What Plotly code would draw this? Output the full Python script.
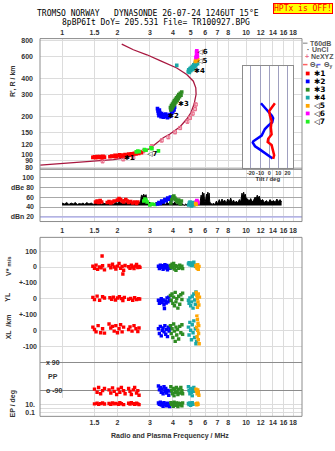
import plotly.graph_objects as go

W, H = 335, 451
def py(p): return 1 - p / H
def pxx(p): return p / W

# ---------------- data ----------------
freq_ticks = [1, 1.5, 2, 3, 4, 5, 6, 7, 8, 10, 12, 14, 16, 18]
freq_tick_text = ['1', '1.5', '2', '3', '4', '5', '6', '7', '8', '10', '12', '14', '16', '18']
height_ticks = [80, 90, 100, 120, 150, 200, 300, 400, 600, 800]
db_ticks = [20, 40, 60, 80, 100]
db_tick_text = ['dBn 20', '40', '60', 'dBe 80', '100']

# plasma-frequency profile
prof_f = [0.76, 1.02, 1.39, 1.64, 1.90, 2.25, 2.55, 2.77, 3.01, 3.34, 3.55, 3.86, 4.38, 4.76, 5.02,
          5.22, 5.35, 5.33, 5.17, 4.76, 4.20, 3.41, 2.89, 2.44, 2.11]
prof_h = [82.9, 85.5, 88, 89.5, 91.8, 95.2, 100.5, 105, 112.6, 126, 136.5, 146, 167, 192, 216,
          252, 301, 339, 382, 431, 486, 555, 618, 677, 751]
nexyz_f = [1.66, 2.15, 2.44, 2.77, 3.07, 3.48, 3.78, 4.11, 4.38, 4.80, 4.96, 5.13, 5.28, 5.33]
nexyz_h = [89.1, 92.4, 95.2, 107, 117, 130, 138, 151, 163, 183, 196, 212, 230, 250]

# echo traces (frequency MHz, virtual height km)
e1_f = [1.47, 1.50, 1.52, 1.55, 1.58, 1.61, 1.64, 1.67, 1.70, 1.82, 1.86, 1.90, 1.94, 1.97, 2.01, 2.05,
        2.08, 2.12, 2.16, 2.20, 2.26, 2.30, 2.34, 2.38, 2.42, 2.47, 2.52, 2.56, 2.61, 2.66, 2.70]
e1_h = [95.5, 96.5, 94.8, 97, 95.5, 96.8, 95, 97.5, 96, 96.5, 98, 97, 99, 96.8, 98.5, 100,
        97.5, 99.5, 98, 100.5, 99, 101.5, 100, 102, 100.5, 103, 101.5, 104, 102.5, 105, 104]
e2_f = [3.30, 3.32, 3.34, 3.36, 3.38, 3.40, 3.42, 3.45, 3.48, 3.52, 3.55, 3.58, 3.62, 3.66, 3.70, 3.74,
        3.78, 3.82, 3.86, 3.90, 3.94, 3.97, 4.00, 4.03, 4.06, 4.09]
e2_h = [232, 222, 212, 204, 226, 216, 208, 200, 212, 204, 198, 207, 200, 210, 202, 197,
        205, 200, 208, 203, 214, 224, 218, 232, 226, 238]
e3_f = [3.88, 3.90, 3.93, 3.96, 3.98, 4.01, 4.03, 4.06, 4.08, 4.10, 4.13, 4.16, 4.19, 4.22, 4.25,
        4.28, 4.31, 4.35, 4.39, 4.43, 4.47]
e3_h = [236, 226, 245, 232, 252, 240, 260, 248, 268, 255, 275, 262, 282, 270, 290,
        278, 300, 288, 306, 296, 314]
e4_f = [4.20, 4.85, 4.88, 4.92, 4.96, 5.00, 5.04, 5.08, 5.12, 5.16, 5.20, 5.24, 5.28, 5.32, 5.36, 5.40, 5.45]
e4_h = [510, 455, 470, 448, 480, 462, 490, 470, 500, 478, 515, 495, 530, 505, 520, 540, 525]
e5_f = [5.30, 5.34, 5.38, 5.42, 5.46]
e5_h = [548, 560, 572, 555, 565]
e6_f = [5.34, 5.38, 5.42, 5.38, 5.44, 5.40]
e6_h = [590, 610, 630, 650, 600, 665]
e7_f = [2.53, 2.58, 2.63, 2.80, 2.86, 3.04, 3.08, 3.34]
e7_h = [105.5, 107, 106, 110, 109, 113.5, 112, 107.5]

lab_f = [2.17, 3.77, 4.27, 5.22, 5.42, 5.44, 2.90]
lab_h = [94, 200, 253, 458, 545, 650, 101]
lab_t = ['✱1', '✱2', '✱3', '✱4', '◁5', '◁6', '◁7']

# tilt inset
tilt_blue_x = [-9, -4.7, -1.1, 2.9, 4.3, 3.3, -1.1, -4.7, -8.3, -13.7, -17.4, -18, -15.5, -10, -4.7, 0.8, 3.7]
tilt_blue_h = [256, 237, 220, 204, 195, 181, 170, 160, 142, 134, 128, 125, 117, 110, 103.5, 97.5, 93.5]
tilt_red_x = [6.2, 2.6, 0, 0.8, 2.6, 1.8, 2.6, -1.1, -1.7, 2.6, 4.3, 5.4, 4.3]
tilt_red_h = [256, 237, 222, 204, 186, 164, 145, 134, 126.5, 119.5, 109, 99.5, 93]

# amplitude
amp_f = [1.00, 1.03, 1.06, 1.09, 1.12, 1.15, 1.18, 1.21, 1.24, 1.27, 1.30, 1.33, 1.36, 1.40, 1.44, 1.48,
         1.52, 1.56, 1.60, 1.64, 1.68, 1.72, 1.76, 1.80, 1.85, 1.90, 1.95, 2.00, 2.05, 2.10, 2.15, 2.20,
         2.25, 2.30, 2.36, 2.42, 2.48, 2.54, 2.60, 2.66, 2.70, 2.74, 2.78, 2.82, 2.86, 2.90, 2.95, 3.00,
         3.06, 3.12, 3.18, 3.25, 3.32, 3.40, 3.48, 3.56, 3.64, 3.72, 3.80, 3.90, 4.00, 4.10, 4.20, 4.30,
         4.40, 4.50, 4.60, 4.70, 4.80, 4.90, 5.00, 5.10, 5.20, 5.30, 5.40, 5.50, 5.60, 5.70, 5.75, 5.80,
         5.85, 5.90, 5.95, 6.00, 6.10, 6.15, 6.20, 6.25, 6.30, 6.35, 6.45, 6.55, 6.65, 6.75, 6.90, 7.00,
         7.15, 7.25, 7.40, 7.55, 7.65, 7.80, 7.95, 8.10, 8.25, 8.40, 8.55, 8.70, 8.85, 9.00, 9.20, 9.35,
         9.50, 9.60, 9.70, 9.80, 9.90, 10.0, 10.2, 10.4, 10.6, 10.8, 11.0, 11.2, 11.35, 11.5, 11.65, 11.8,
         12.0, 12.3, 12.6, 12.9, 13.2, 13.5, 13.8, 14.1, 14.4, 14.7, 15.0, 15.3, 15.6]
amp_db = [48, 46, 49, 45, 48, 46, 49, 45, 47, 46, 48, 45, 49, 46, 48, 45,
          50, 46, 49, 45, 48, 46, 51, 46, 49, 45, 50, 47, 52, 46, 55, 47,
          52, 46, 50, 45, 49, 46, 52, 47, 64, 62, 66, 60, 65, 47, 45, 50,
          44, 48, 45, 50, 44, 48, 45, 49, 44, 50, 46, 52, 46, 50, 45, 48,
          44, 47, 43, 46, 43, 45, 44, 47, 43, 46, 44, 47, 45, 64, 55, 70,
          58, 68, 52, 50, 66, 60, 70, 58, 68, 50, 47, 45, 48, 44, 52, 46,
          55, 48, 56, 50, 54, 47, 56, 50, 58, 49, 54, 47, 52, 48, 55, 50,
          68, 60, 70, 62, 66, 58, 56, 52, 57, 50, 54, 60, 56, 64, 58, 62,
          52, 55, 49, 53, 48, 55, 50, 53, 49, 56, 51, 55, 50]
amp_base_f = [1.00, 15.6]
amp_base_db = [43, 43]
noise_f = [0.7, 21]
noise_db = [20, 20]
a1_f = [1.52, 1.55, 1.58, 1.61, 1.64, 1.76, 1.80, 1.84, 1.88, 1.92, 2.00, 2.04, 2.08, 2.12, 2.16, 2.22, 2.26, 2.30, 2.36, 2.42, 2.48, 2.54, 2.58]
a1_db = [50, 52, 49, 53, 50, 49, 51, 48, 50, 52, 54, 57, 55, 52, 50, 55, 52, 49, 51, 48, 50, 47, 50]
a7_f = [2.78, 2.82, 2.86, 2.90, 3.00, 3.08, 3.20]
a7_db = [52, 56, 54, 50, 44, 46, 45]
a2_f = [3.30, 3.36, 3.42, 3.48, 3.55, 3.62, 3.68, 3.75, 3.82, 3.88, 3.92]
a2_db = [46, 49, 47, 52, 50, 55, 53, 58, 56, 60, 55]
a3_f = [3.90, 3.95, 4.00, 4.05, 4.10, 4.15, 4.20, 4.25, 4.30, 4.35, 4.40, 4.45]
a3_db = [48, 55, 60, 62, 58, 55, 52, 50, 54, 48, 46, 52]
a4_f = [4.88, 4.92, 4.96, 5.00, 5.05, 5.10, 5.15, 5.20]
a4_db = [44, 48, 50, 46, 42, 45, 49, 44]
a6_f = [5.36, 5.40, 5.44, 5.48]
a6_db = [50, 53, 51, 48]
a5_f = [5.32, 5.35]
a5_db = [47, 45]

# V* (m/s)
v1_f = [1.47, 1.50, 1.53, 1.56, 1.60, 1.63, 1.66, 1.70, 1.65, 1.80, 1.84, 1.88, 1.92, 1.96, 2.00, 2.04,
        2.08, 2.12, 2.16, 2.14, 2.20, 2.30, 2.34, 2.38, 2.42, 2.46, 2.50, 2.54, 2.58, 2.62, 2.65]
v1_v = [5, -8, 12, -15, 0, -5, 8, -18, 70, 10, -5, 18, 0, -12, 6, 22,
        -8, 4, -20, -44, 10, 2, -8, 12, 0, -10, 6, 16, -4, 4, -2]
v2_f = [3.34, 3.38, 3.42, 3.46, 3.50, 3.54, 3.58, 3.62, 3.66, 3.70, 3.74, 3.78, 3.82, 3.86]
v2_v = [5, -10, 12, -2, 8, -15, 3, 15, -6, 10, -18, 0, 6, -8]
v3_f = [3.88, 3.92, 3.96, 4.00, 4.04, 4.08, 4.12, 4.16, 4.20, 4.30, 4.36, 4.42, 4.48, 4.52]
v3_v = [10, -5, 18, 0, 22, -12, 8, -20, 5, -8, 12, -3, 6, -10]
v4_f = [4.86, 4.90, 4.95, 5.00, 5.05, 5.10, 5.15, 5.20, 5.25, 5.30]
v4_v = [20, 28, 14, 22, 10, 26, 18, 30, 12, 4]
v5_f = [5.34, 5.38, 5.42, 5.46, 5.50, 5.55]
v5_v = [10, 0, -8, 14, -15, 4]

# YL (km)
yl1_f = [1.47, 1.50, 1.55, 1.60, 1.66, 1.70, 1.82, 1.86, 1.90, 1.95, 2.00, 2.05, 2.10, 2.14, 2.18, 2.30,
         2.36, 2.42, 2.48, 2.54, 2.60, 2.64]
yl1_v = [8, -6, 16, -10, 12, 4, 6, -4, 10, -8, 4, 12, 0, -12, 8, -4, 2, -10, 6, -6, 0, -2]
yl2_f = [3.34, 3.38, 3.42, 3.46, 3.50, 3.54, 3.58, 3.60, 3.64, 3.68, 3.72, 3.76, 3.80, 3.84]
yl2_v = [-10, -30, -18, 0, -24, -8, -38, -62, -15, -28, 5, -20, 10, -12]
yl3_f = [3.88, 3.92, 3.96, 4.00, 4.04, 4.08, 4.12, 4.16, 4.20, 4.26, 4.30, 4.36, 4.42, 4.48, 4.52]
yl3_v = [20, -10, 30, -30, 10, -45, 40, -20, 0, -60, 15, -35, 25, -5, 35]
yl4_f = [4.86, 4.90, 4.95, 5.00, 5.05, 5.10, 5.15, 5.20, 5.25, 5.30, 5.34]
yl4_v = [-10, -30, 5, -45, -20, 15, -60, 30, -8, -35, 42]
yl5_f = [5.36, 5.40, 5.44, 5.48, 5.50, 5.54, 5.58, 5.44]
yl5_v = [40, 20, 0, -20, 30, -40, 10, -55]

# XL (km)
xl1_f = [1.47, 1.50, 1.53, 1.57, 1.62, 1.66, 1.70, 1.80, 1.84, 1.88, 1.92, 1.96, 2.00, 2.04, 2.08, 2.12,
         2.16, 2.30, 2.34, 2.40, 2.46, 2.52, 2.58, 2.62]
xl1_v = [20, 5, -10, 30, -15, 10, -18, 40, 15, 25, -5, 30, -15, 10, 35, -10,
         20, 5, 22, -5, 30, 10, -8, 15]
xl2_f = [3.34, 3.38, 3.42, 3.46, 3.50, 3.54, 3.58, 3.62, 3.66, 3.70, 3.74, 3.78, 3.82, 3.86]
xl2_v = [10, -20, 25, -35, 0, 15, -10, 30, -25, 5, -40, 20, -5, 12]
xl3_f = [3.88, 3.92, 3.96, 4.00, 4.04, 4.08, 4.12, 4.16, 4.20, 4.24, 4.30, 4.36, 4.42, 4.48, 4.52]
xl3_v = [30, -20, 10, -45, 40, -5, -70, 20, -30, 5, -55, 25, -15, 35, -25]
xl4_f = [4.86, 4.90, 4.95, 5.00, 5.05, 5.10, 5.15, 5.20, 5.25, 5.30, 5.34, 5.38]
xl4_v = [20, -30, 50, 0, -60, 35, -15, 60, -45, 10, -85, -70]
xl5_f = [5.36, 5.40, 5.44, 5.48, 5.38, 5.46, 5.52, 5.42, 5.50, 5.56, 5.48, 5.53]
xl5_v = [120, 95, 70, 45, 20, 0, -20, -40, -60, -85, 110, 30]

# PP (deg)
pp1_f = [1.50, 1.55, 1.58, 1.62, 1.66, 1.70, 1.80, 1.84, 1.88, 1.92, 1.98, 2.02, 2.06, 2.10, 2.16, 2.20,
         2.30, 2.34, 2.38, 2.44, 2.48, 2.54, 2.58, 2.62]
pp1_v = [-80, -100, -70, -110, -90, -75, -85, -105, -72, -95, -115, -80, -100, -70, -90, -110,
         -75, -95, -115, -85, -70, -105, -90, -120]
pp2_f = [3.34, 3.38, 3.42, 3.46, 3.50, 3.54, 3.58, 3.62, 3.66, 3.70, 3.74, 3.80, 3.84]
pp2_v = [-60, -85, -70, -100, -80, -110, -65, -95, -75, -105, -88, -120, -92]
pp3_f = [3.90, 3.94, 3.98, 4.02, 4.06, 4.10, 4.14, 4.18, 4.22, 4.26, 4.30, 4.36, 4.42, 4.48, 4.52]
pp3_v = [-65, -90, -110, -75, -125, -85, -100, -70, -95, -115, -80, -105, -70, -90, -110]
pp4_f = [4.86, 4.90, 4.95, 5.00, 5.05, 5.10, 5.15, 5.20, 5.25]
pp4_v = [-65, -90, -110, -75, -100, -125, -85, -70, -95]
pp5_f = [5.34, 5.38, 5.42, 5.46, 5.50, 5.54]
pp5_v = [-80, -95, -110, -85, -100, -120]

# EP
ep1_f = [1.50, 1.55, 1.58, 1.62, 1.66, 1.70, 1.80, 1.84, 1.88, 1.92, 1.96, 2.02, 2.06, 2.10, 2.16, 2.30,
         2.34, 2.38, 2.44, 2.48, 2.54, 2.58, 2.62]
ep1_v = [12, 18, 9, 14, 20, 11, 15, 9, 22, 12, 16, 10, 25, 13, 8, 18, 11, 24, 14, 9, 17, 12, 8]
ep2_f = [3.34, 3.38, 3.42, 3.46, 3.50, 3.54, 3.58, 3.62, 3.66, 3.70, 3.74, 3.80, 3.84]
ep2_v = [20, 10, 30, 6, 15, 3, 25, 8, 12, 4, 18, 9, 2.5]
ep3_f = [3.90, 3.94, 3.98, 4.02, 4.06, 4.10, 4.14, 4.18, 4.22, 4.26, 4.30, 4.36, 4.42, 4.48, 4.52]
ep3_v = [25, 8, 15, 3, 30, 10, 5, 20, 12, 2.5, 18, 7, 14, 4, 22]
ep4_f = [4.86, 4.90, 4.95, 5.00, 5.05, 5.10, 5.15]
ep4_v = [15, 8, 20, 5, 12, 25, 9]
ep5_f = [5.36, 5.40, 5.44, 5.48]
ep5_v = [14, 7, 18, 10]

# ---------------- styles ----------------
C = {1: '#ff0000', 2: '#0000ff', 3: '#2e8b22', 4: '#1aa8a8', 5: '#ffa500', 6: '#ff00ff', 7: '#22ee22'}
PROF = '#a8173f'
PINK = '#e8708c'
TF = dict(family='Liberation Sans', size=7, color='#333333', weight='bold')

fig = go.Figure()

def sq(x, y, col, xa, ya, size=3.4):
    fig.add_trace(go.Scatter(x=x, y=y, mode='markers', xaxis=xa, yaxis=ya,
                             marker=dict(symbol='square', size=size, color=col, line=dict(width=0)),
                             showlegend=False, hoverinfo='skip'))

# height panel
fig.add_trace(go.Scatter(x=prof_f, y=prof_h, mode='lines', line=dict(color=PROF, width=1.3),
                         xaxis='x', yaxis='y', showlegend=False))
fig.add_trace(go.Scatter(x=nexyz_f, y=nexyz_h, mode='markers', xaxis='x', yaxis='y', showlegend=False,
                         marker=dict(symbol='square-open', size=3, color=PINK, line=dict(width=1)),
                         error_y=dict(type='percent', value=3, color=PINK, thickness=1, width=1.5)))
for (f, h, k) in [(e1_f, e1_h, 1), (e2_f, e2_h, 2), (e3_f, e3_h, 3), (e4_f, e4_h, 4),
                  (e5_f, e5_h, 5), (e6_f, e6_h, 6), (e7_f, e7_h, 7)]:
    sq(f, h, C[k], 'x', 'y', 3.6)
fig.add_trace(go.Scatter(x=lab_f, y=lab_h, mode='text', text=lab_t, textposition='middle right',
                         textfont=dict(family='DejaVu Sans', size=7, color='black', weight='bold'),
                         xaxis='x', yaxis='y', showlegend=False))

# tilt inset
fig.add_trace(go.Scatter(x=tilt_blue_x, y=tilt_blue_h, mode='lines', line=dict(color='#0000ff', width=2.5),
                         xaxis='x8', yaxis='y8', showlegend=False))
fig.add_trace(go.Scatter(x=tilt_red_x, y=tilt_red_h, mode='lines', line=dict(color='#ff0000', width=2.5),
                         xaxis='x8', yaxis='y8', showlegend=False))

# amplitude panel
fig.add_trace(go.Scatter(x=noise_f, y=noise_db, mode='lines', line=dict(color='#b8b8f0', width=1.5),
                         xaxis='x2', yaxis='y2', showlegend=False))
fig.add_trace(go.Scatter(x=amp_base_f, y=amp_base_db, mode='lines', line=dict(width=0, color='black'),
                         xaxis='x2', yaxis='y2', showlegend=False))
fig.add_trace(go.Scatter(x=amp_f, y=amp_db, mode='lines', line=dict(color='black', width=1),
                         fill='tonexty', fillcolor='black', xaxis='x2', yaxis='y2', showlegend=False))
for (f, d, k) in [(a1_f, a1_db, 1), (a7_f, a7_db, 7), (a2_f, a2_db, 2), (a3_f, a3_db, 3),
                  (a4_f, a4_db, 4), (a6_f, a6_db, 6), (a5_f, a5_db, 5)]:
    sq(f, d, C[k], 'x2', 'y2', 3.6)

# lower panels
for (f, v, k) in [(v1_f, v1_v, 1), (v2_f, v2_v, 2), (v3_f, v3_v, 3), (v4_f, v4_v, 4), (v5_f, v5_v, 5)]:
    sq(f, v, C[k], 'x3', 'y3')
for (f, v, k) in [(yl1_f, yl1_v, 1), (yl2_f, yl2_v, 2), (yl3_f, yl3_v, 3), (yl4_f, yl4_v, 4), (yl5_f, yl5_v, 5)]:
    sq(f, v, C[k], 'x3', 'y4')
for (f, v, k) in [(xl1_f, xl1_v, 1), (xl2_f, xl2_v, 2), (xl3_f, xl3_v, 3), (xl4_f, xl4_v, 4), (xl5_f, xl5_v, 5)]:
    sq(f, v, C[k], 'x3', 'y5')
for (f, v, k) in [(pp1_f, pp1_v, 1), (pp2_f, pp2_v, 2), (pp3_f, pp3_v, 3), (pp4_f, pp4_v, 4), (pp5_f, pp5_v, 5)]:
    sq(f, v, C[k], 'x3', 'y6')
for (f, v, k) in [(ep1_f, ep1_v, 1), (ep2_f, ep2_v, 2), (ep3_f, ep3_v, 3), (ep4_f, ep4_v, 4), (ep5_f, ep5_v, 5)]:
    sq(f, v, C[k], 'x3', 'y7')

# ---------------- axes ----------------
XD = [pxx(40), pxx(302)]
GRID = '#dcdcdc'
xcommon = dict(type='log', range=[-0.12, 1.304], tickvals=freq_ticks, ticktext=freq_tick_text,
               showgrid=True, gridcolor=GRID, gridwidth=1, zeroline=False, showline=False,
               ticks='', tickfont=TF, domain=XD, tickangle=0)
ycommon = dict(showgrid=True, gridcolor=GRID, zeroline=False, showline=False, ticks='', tickfont=TF)

fig.update_layout(
    width=W, height=H, margin=dict(l=0, r=0, t=0, b=0),
    paper_bgcolor='white', plot_bgcolor='white', showlegend=False,
    xaxis=dict(xcommon, anchor='y', side='top', ticklabelstandoff=1),
    xaxis2=dict(xcommon, anchor='y2', side='bottom', matches='x', ticklabelstandoff=3),
    xaxis3=dict(xcommon, anchor='y7', side='bottom', matches='x', ticklabelstandoff=1),
    yaxis=dict(ycommon, domain=[py(169), py(37)], anchor='x', type='log', range=[1.887, 2.919],
               tickvals=height_ticks, ticktext=[str(v) for v in height_ticks], ticklabelstandoff=6),
    yaxis2=dict(ycommon, domain=[py(222), py(169)], anchor='x2', range=[10.6, 116.6],
                tickvals=db_ticks, ticktext=db_tick_text, gridcolor='#a8a8a8', ticklabelstandoff=5),
    yaxis3=dict(ycommon, domain=[py(284), py(238)], anchor='x3', range=[-100, 187.5],
                tickvals=[100, 0, -100], ticktext=['100', '0', '+-100'], ticklabelstandoff=2),
    yaxis4=dict(ycommon, domain=[py(316), py(284)], anchor='x3', range=[-100, 100],
                tickvals=[0, -100], ticktext=['0', '+-100'], ticklabelstandoff=2),
    yaxis5=dict(ycommon, domain=[py(357), py(316)], anchor='x3', range=[-156.25, 100],
                tickvals=[0, -100], ticktext=['0', '-100'], ticklabelstandoff=2),
    yaxis6=dict(ycommon, domain=[py(400), py(357)], anchor='x3', range=[-135, 141.4],
                tickvals=[90, -90], ticktext=['x 90', 'o -90'], gridcolor='#8c8c8c',
                ticklabelposition='inside', ticklabelstandoff=3),
    yaxis7=dict(ycommon, domain=[py(419), py(400)], anchor='x3', type='log', range=[-2.075, 2.675],
                tickvals=[10, 0.1], ticktext=['10.', '0.1'], ticklabelstandoff=4,
                minor=dict(tickvals=[1], showgrid=True, gridcolor=GRID, ticks='')),
    xaxis8=dict(domain=[pxx(242.7), pxx(293)], anchor='y8', range=[-29, 26],
                tickvals=[-20, -10, 0, 10, 20], ticktext=['-20', '-10', '0', '10', '20'],
                showgrid=True, gridcolor='#a0a0c0', zeroline=False, showline=True, mirror=True,
                linecolor='#8c8c8c', ticks='', ticklabelstandoff=0, tickangle=0,
                tickfont=dict(family='Liberation Sans', size=5.5, color='#333', weight='bold'),
                title=dict(text='Tilt / deg', standoff=0,
                           font=dict(family='Liberation Sans', size=6, color='#333', weight='bold'))),
    yaxis8=dict(domain=[py(167.7), py(65)], anchor='x8', type='log', range=[1.8975, 2.700],
                showgrid=False, zeroline=False, showline=True, mirror=True, linecolor='#8c8c8c',
                showticklabels=False, ticks=''),
)

# ---------------- frames & legend decorations ----------------
shapes = []
for (t, b) in [(37, 169), (169, 222), (238, 419)]:
    shapes.append(dict(type='rect', xref='paper', yref='paper', x0=pxx(40), x1=pxx(302),
                       y0=py(b), y1=py(t), line=dict(color='#8c8c8c', width=1)))
# legend swatches
shapes.append(dict(type='line', xref='paper', yref='paper', x0=pxx(303), x1=pxx(307.5), y0=py(41.7), y1=py(41.7),
                   line=dict(color='#aaaaaa', width=1.5)))
shapes.append(dict(type='line', xref='paper', yref='paper', x0=pxx(303), x1=pxx(307.5), y0=py(63.3), y1=py(63.3),
                   line=dict(color='#ff6060', width=1.5)))
shapes.append(dict(type='line', xref='paper', yref='paper', x0=pxx(316.5), x1=pxx(320.5), y0=py(63.3), y1=py(63.3),
                   line=dict(color='#6060ff', width=1.5)))
leg_y = [72.3, 80.3, 88.7, 96.7, 105, 112.7, 121]
leg_t = ['✱1', '✱2', '✱3', '✱4', '◁5', '◁6', '◁7']
for i, yy in enumerate(leg_y):
    shapes.append(dict(type='rect', xref='paper', yref='paper', x0=pxx(305.8), x1=pxx(309.6),
                       y0=py(yy + 1.9), y1=py(yy - 1.9), fillcolor=C[i + 1], line=dict(width=0)))
fig.update_layout(shapes=shapes)

ann = []
def A(x, y, text, size=7, xanchor='left', family='Liberation Sans', color='#333333', weight='bold', **kw):
    ann.append(dict(xref='paper', yref='paper', x=pxx(x), y=py(y), text=text, showarrow=False,
                    xanchor=xanchor, yanchor='middle',
                    font=dict(family=family, size=size, color=color, weight=weight), **kw))

NB = '\u00a0'
A(35, 11.3, 'TROMSO NORWAY' + NB * 3 + 'DYNASONDE 26-07-24 1246UT 15°E', size=8,
  family='DejaVu Sans Mono', color='black', weight='normal')
A(60, 20.5, '8pBP6It DoY= 205.531 File= TR100927.BPG', size=8,
  family='DejaVu Sans Mono', color='black', weight='normal')
ann.append(dict(xref='paper', yref='paper', x=pxx(333), y=py(1.5), text='HPTx is OFF!', showarrow=False,
                xanchor='right', yanchor='top', bgcolor='#ffff00', bordercolor='#ff0000', borderwidth=1,
                borderpad=0, font=dict(family='DejaVu Sans Mono', size=8, color='#ff0000')))
# legend texts
A(308, 41.7, 'T60dB', color='#555')
A(305, 48.3, '·', color='#333')
A(310, 48.3, 'UnCl', color='#555')
A(303, 55, '+', color=PINK)
A(309, 55, 'NeXYZ', color='#555')
A(308, 63.3, 'Θ<sub>x</sub>', color='#555')
A(321.5, 63.3, 'Θ<sub>y</sub>', color='#555')
for yy, tt in zip(leg_y, leg_t):
    A(311.5, yy, tt, size=7.5, family='DejaVu Sans', color='black')
# axis titles
A(13, 80, "R', R / km", xanchor='center', textangle=-90)
A(8, 267, 'V* <span style="font-size:6px">m/s</span>', xanchor='center', textangle=-90)
A(8, 298, 'YL', xanchor='center', textangle=-90)
A(8, 329, 'XL  /km', xanchor='center', textangle=-90)
A(46, 379, 'PP')
A(13, 406, 'EP / deg', xanchor='center', textangle=-90)
A(170, 439, 'Radio and Plasma Frequency / MHz', xanchor='center')
fig.update_layout(annotations=ann)

fig.write_html('out.html')
